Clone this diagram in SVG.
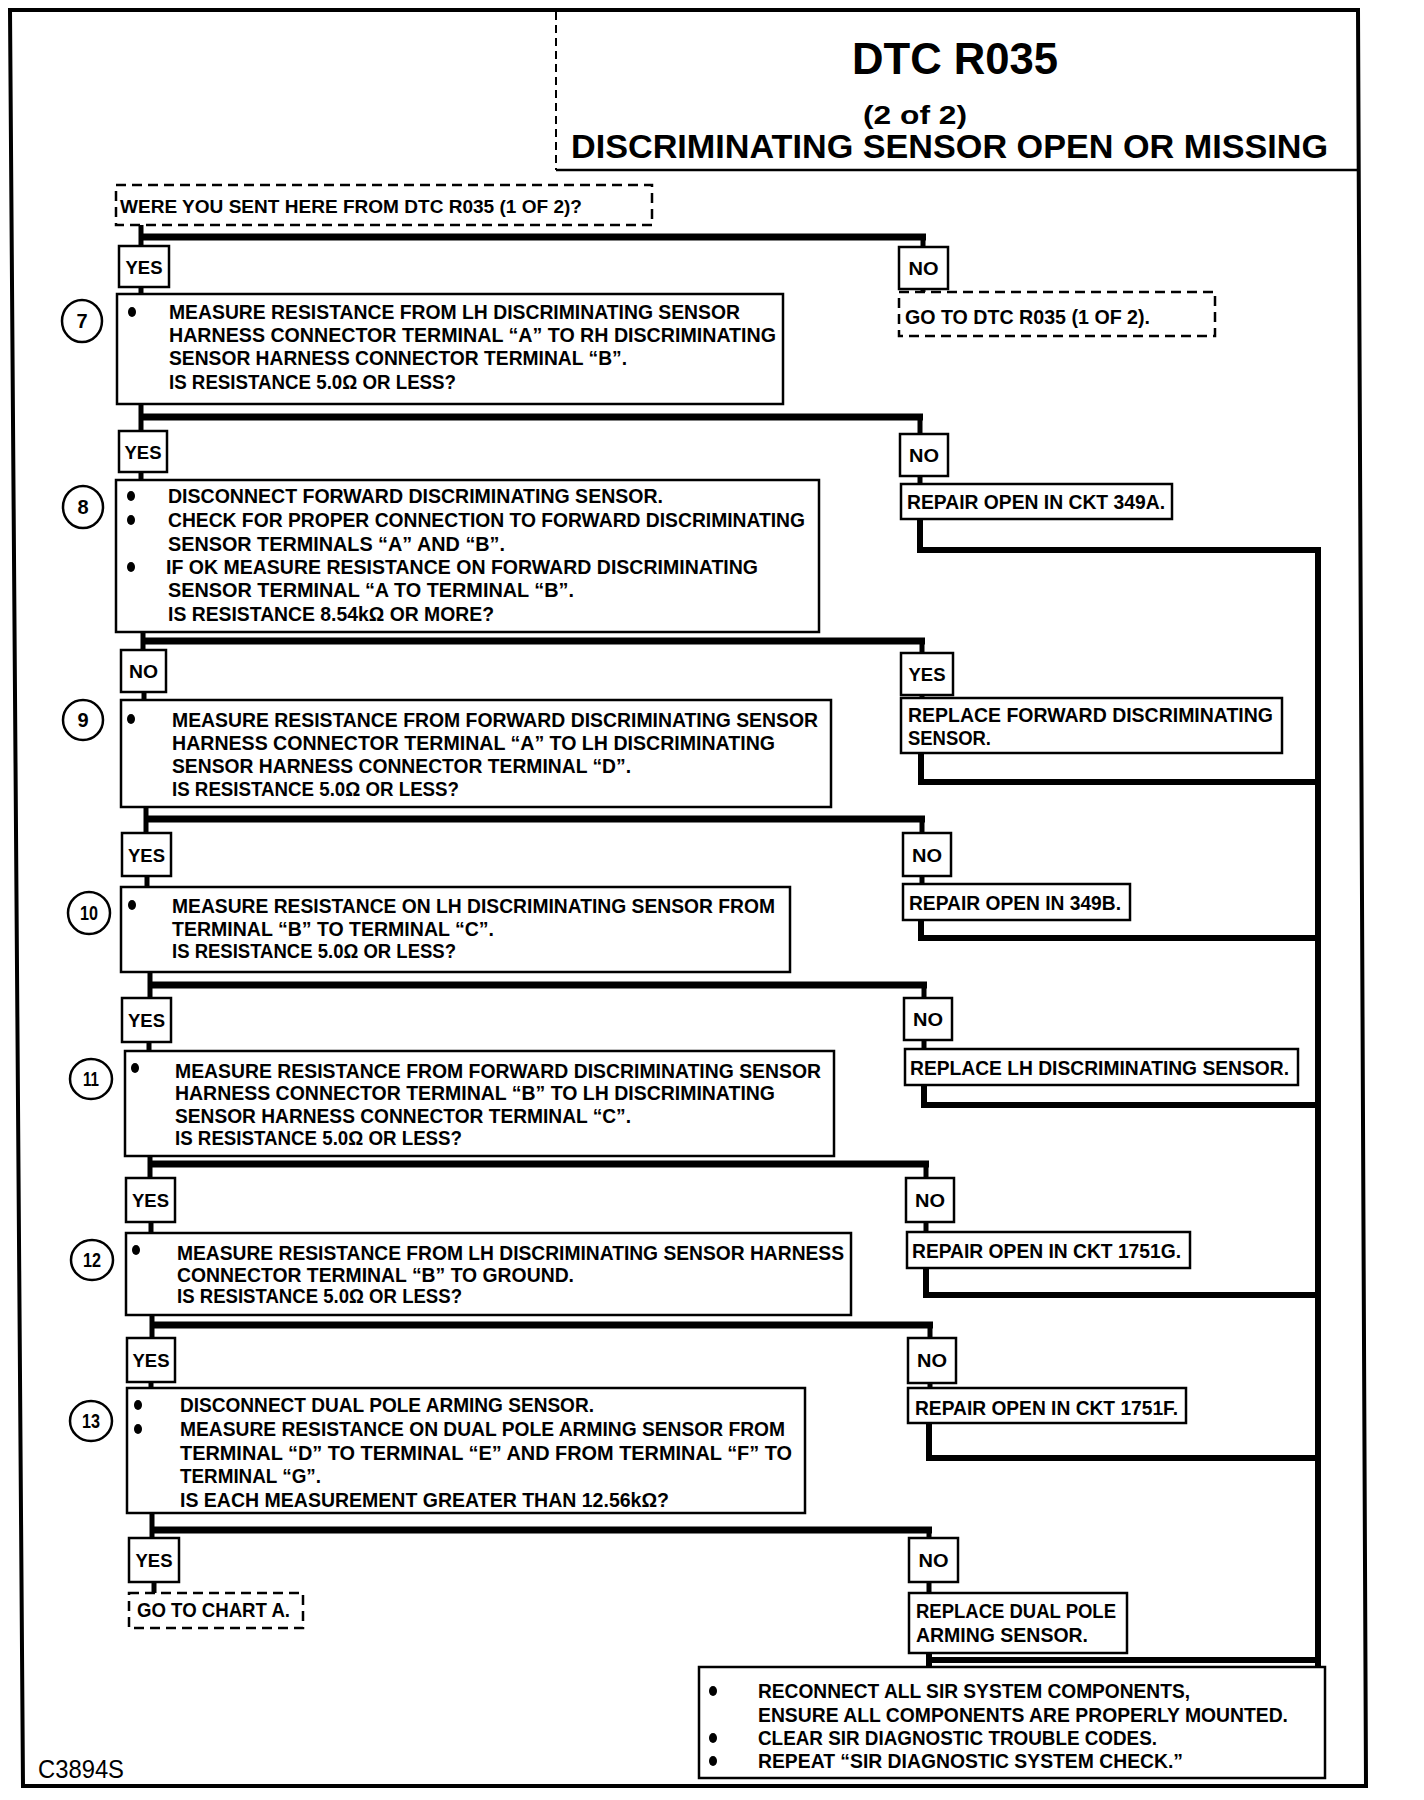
<svg xmlns="http://www.w3.org/2000/svg" width="1424" height="1800" viewBox="0 0 1424 1800">
<style>
.box{fill:#fff;stroke:#000;stroke-width:2.5}
.dash{fill:#fff;stroke:#000;stroke-width:2.5;stroke-dasharray:10 6}
.t{font-family:"Liberation Sans",Arial,sans-serif;font-weight:bold;font-size:20px;fill:#000}
.l{font-family:"Liberation Sans",Arial,sans-serif;font-weight:bold;font-size:19px;fill:#000;text-anchor:middle}
.n{font-family:"Liberation Sans",Arial,sans-serif;font-weight:bold;font-size:20px;fill:#000;text-anchor:middle}
.circ{fill:#fff;stroke:#000;stroke-width:2.5}
.bul{fill:#000}
.h{stroke:#000;stroke-width:7;fill:none}
.v{stroke:#000;stroke-width:5;fill:none}
.r{stroke:#000;stroke-width:6;fill:none;stroke-linejoin:miter}
</style>
<rect width="1424" height="1800" fill="#fff"/>
<g id="frame">
<path d="M10,10 L1358,10 L1366,1786 L23,1786 Z" fill="none" stroke="#000" stroke-width="4"/>
<line x1="556" y1="12" x2="556" y2="170" stroke="#000" stroke-width="2" stroke-dasharray="8 5"/>
<line x1="556" y1="170" x2="1360" y2="170" stroke="#000" stroke-width="2.5"/>
</g>
<g id="title">
<text class="t" x="852" y="74" style="font-size:44px" textLength="206" lengthAdjust="spacingAndGlyphs">DTC R035</text>
<text class="t" x="863" y="124" style="font-size:26px" textLength="104" lengthAdjust="spacingAndGlyphs">(2 of 2)</text>
<text class="t" x="571" y="158" style="font-size:33px" textLength="757" lengthAdjust="spacingAndGlyphs">DISCRIMINATING SENSOR OPEN OR MISSING</text>
</g>

<g id="connectors">
<path class="v" d="M141,225 V246 M141,287 V294 M141,404 V431 M141,472 V480 M143,632 V650 M144,692 V700 M146,807 V833 M147,876 V887 M150,972 V998 M149,1042 V1051 M150,1156 V1178 M151,1222 V1233 M152,1315 V1338 M151,1382 V1388 M152,1513 V1538 M154,1582 V1593"/>
<path class="h" d="M141,237 H926 M141,417 H923 M143,641 H925 M146,819 H925 M150,985 H927 M150,1164 H929 M152,1325 H933 M152,1530 H932"/>
<path class="v" d="M923,237 V247 M923,289 V292 M920,417 V434 M920,476 V484 M922,641 V653 M922,695 V698 M922,819 V833 M922,876 V884 M924,985 V998 M924,1040 V1049 M926,1164 V1178 M926,1222 V1232 M930,1325 V1338 M930,1383 V1388 M929,1530 V1538 M929,1582 V1593"/>
<path class="r" d="M920,519 V550 H1321 M921,753 V782 H1321 M921,920 V938 H1321 M924,1085 V1105 H1321 M926,1268 V1295 H1321 M929,1423 V1458 H1321 M929,1653 V1667 M929,1660 H1321"/>
<path class="r" d="M1318,547 V1667"/>
</g>

<g id="start">
<rect class="dash" x="116" y="185" width="536" height="40"/>
<text class="t" x="120" y="213" style="font-size:19px" textLength="462" lengthAdjust="spacingAndGlyphs">WERE YOU SENT HERE FROM DTC R035 (1 OF 2)?</text>
</g>

<g id="yes1"><rect class="box" x="119" y="246" width="50" height="41"/><text class="l" x="144" y="274" textLength="37" lengthAdjust="spacingAndGlyphs">YES</text></g>
<g id="yes2"><rect class="box" x="119" y="431" width="48" height="41"/><text class="l" x="143" y="459" textLength="37" lengthAdjust="spacingAndGlyphs">YES</text></g>
<g id="no3"><rect class="box" x="121" y="650" width="45" height="42"/><text class="l" x="143.5" y="678" textLength="29" lengthAdjust="spacingAndGlyphs">NO</text></g>
<g id="yes4"><rect class="box" x="122" y="833" width="49" height="43"/><text class="l" x="146.5" y="862" textLength="37" lengthAdjust="spacingAndGlyphs">YES</text></g>
<g id="yes5"><rect class="box" x="122" y="998" width="49" height="44"/><text class="l" x="146.5" y="1027" textLength="37" lengthAdjust="spacingAndGlyphs">YES</text></g>
<g id="yes6"><rect class="box" x="126" y="1178" width="49" height="44"/><text class="l" x="150.5" y="1207" textLength="37" lengthAdjust="spacingAndGlyphs">YES</text></g>
<g id="yes7"><rect class="box" x="127" y="1338" width="48" height="44"/><text class="l" x="151" y="1367" textLength="37" lengthAdjust="spacingAndGlyphs">YES</text></g>
<g id="yes8"><rect class="box" x="129" y="1538" width="50" height="44"/><text class="l" x="154" y="1567" textLength="37" lengthAdjust="spacingAndGlyphs">YES</text></g>

<g id="no1"><rect class="box" x="899" y="247" width="49" height="42"/><text class="l" x="923.5" y="275" textLength="30" lengthAdjust="spacingAndGlyphs">NO</text></g>
<g id="no2"><rect class="box" x="900" y="434" width="48" height="42"/><text class="l" x="924" y="462" textLength="30" lengthAdjust="spacingAndGlyphs">NO</text></g>
<g id="yesr"><rect class="box" x="901" y="653" width="52" height="42"/><text class="l" x="927" y="681" textLength="37" lengthAdjust="spacingAndGlyphs">YES</text></g>
<g id="no4"><rect class="box" x="903" y="833" width="48" height="43"/><text class="l" x="927" y="862" textLength="30" lengthAdjust="spacingAndGlyphs">NO</text></g>
<g id="no5"><rect class="box" x="904" y="998" width="48" height="42"/><text class="l" x="928" y="1026" textLength="30" lengthAdjust="spacingAndGlyphs">NO</text></g>
<g id="no6"><rect class="box" x="906" y="1178" width="48" height="44"/><text class="l" x="930" y="1207" textLength="30" lengthAdjust="spacingAndGlyphs">NO</text></g>
<g id="no7"><rect class="box" x="908" y="1338" width="48" height="45"/><text class="l" x="932" y="1367" textLength="30" lengthAdjust="spacingAndGlyphs">NO</text></g>
<g id="no8"><rect class="box" x="909" y="1538" width="49" height="44"/><text class="l" x="933.5" y="1567" textLength="30" lengthAdjust="spacingAndGlyphs">NO</text></g>

<g id="c7"><ellipse class="circ" cx="82" cy="321" rx="20" ry="21"/><text class="n" x="82" y="328">7</text></g>
<g id="c8"><ellipse class="circ" cx="83" cy="507" rx="20" ry="21"/><text class="n" x="83" y="514">8</text></g>
<g id="c9"><ellipse class="circ" cx="83" cy="720" rx="20" ry="20"/><text class="n" x="83" y="727">9</text></g>
<g id="c10"><ellipse class="circ" cx="89" cy="913" rx="21" ry="21"/><text class="n" x="89" y="920" textLength="18" lengthAdjust="spacingAndGlyphs">10</text></g>
<g id="c11"><ellipse class="circ" cx="91" cy="1079" rx="21" ry="20"/><text class="n" x="91" y="1086" textLength="16" lengthAdjust="spacingAndGlyphs">11</text></g>
<g id="c12"><ellipse class="circ" cx="92" cy="1260" rx="21" ry="20"/><text class="n" x="92" y="1267" textLength="18" lengthAdjust="spacingAndGlyphs">12</text></g>
<g id="c13"><ellipse class="circ" cx="91" cy="1421" rx="21" ry="20"/><text class="n" x="91" y="1428" textLength="18" lengthAdjust="spacingAndGlyphs">13</text></g>

<g id="step7">
<rect class="box" x="117" y="294" width="666" height="110"/>
<ellipse class="bul" cx="132" cy="312" rx="4" ry="5"/>
<text class="t" x="169" y="319" textLength="571" lengthAdjust="spacingAndGlyphs">MEASURE RESISTANCE FROM LH DISCRIMINATING SENSOR</text>
<text class="t" x="169" y="342" textLength="607" lengthAdjust="spacingAndGlyphs">HARNESS CONNECTOR TERMINAL “A” TO RH DISCRIMINATING</text>
<text class="t" x="169" y="365" textLength="458" lengthAdjust="spacingAndGlyphs">SENSOR HARNESS CONNECTOR TERMINAL “B”.</text>
<text class="t" x="169" y="389" textLength="287" lengthAdjust="spacingAndGlyphs">IS RESISTANCE 5.0Ω OR LESS?</text>
</g>

<g id="step8">
<rect class="box" x="116" y="480" width="703" height="152"/>
<ellipse class="bul" cx="131" cy="496" rx="4" ry="5"/>
<ellipse class="bul" cx="131" cy="520" rx="4" ry="5"/>
<ellipse class="bul" cx="131" cy="567" rx="4" ry="5"/>
<text class="t" x="168" y="503" textLength="495" lengthAdjust="spacingAndGlyphs">DISCONNECT FORWARD DISCRIMINATING SENSOR.</text>
<text class="t" x="168" y="527" textLength="637" lengthAdjust="spacingAndGlyphs">CHECK FOR PROPER CONNECTION TO FORWARD DISCRIMINATING</text>
<text class="t" x="168" y="551" textLength="337" lengthAdjust="spacingAndGlyphs">SENSOR TERMINALS “A” AND “B”.</text>
<text class="t" x="166" y="574" textLength="592" lengthAdjust="spacingAndGlyphs">IF OK MEASURE RESISTANCE ON FORWARD DISCRIMINATING</text>
<text class="t" x="168" y="597" textLength="406" lengthAdjust="spacingAndGlyphs">SENSOR TERMINAL “A TO TERMINAL “B”.</text>
<text class="t" x="168" y="621" textLength="326" lengthAdjust="spacingAndGlyphs">IS RESISTANCE 8.54kΩ OR MORE?</text>
</g>

<g id="step9">
<rect class="box" x="121" y="700" width="710" height="107"/>
<ellipse class="bul" cx="131" cy="719" rx="4" ry="5"/>
<text class="t" x="172" y="727" textLength="646" lengthAdjust="spacingAndGlyphs">MEASURE RESISTANCE FROM FORWARD DISCRIMINATING SENSOR</text>
<text class="t" x="172" y="750" textLength="603" lengthAdjust="spacingAndGlyphs">HARNESS CONNECTOR TERMINAL “A” TO LH DISCRIMINATING</text>
<text class="t" x="172" y="773" textLength="459" lengthAdjust="spacingAndGlyphs">SENSOR HARNESS CONNECTOR TERMINAL “D”.</text>
<text class="t" x="172" y="796" textLength="287" lengthAdjust="spacingAndGlyphs">IS RESISTANCE 5.0Ω OR LESS?</text>
</g>

<g id="step10">
<rect class="box" x="121" y="887" width="669" height="85"/>
<ellipse class="bul" cx="132" cy="905" rx="4" ry="5"/>
<text class="t" x="172" y="913" textLength="603" lengthAdjust="spacingAndGlyphs">MEASURE RESISTANCE ON LH DISCRIMINATING SENSOR FROM</text>
<text class="t" x="172" y="936" textLength="322" lengthAdjust="spacingAndGlyphs">TERMINAL “B” TO TERMINAL “C”.</text>
<text class="t" x="172" y="958" textLength="284" lengthAdjust="spacingAndGlyphs">IS RESISTANCE 5.0Ω OR LESS?</text>
</g>

<g id="step11">
<rect class="box" x="125" y="1051" width="709" height="105"/>
<ellipse class="bul" cx="135" cy="1068" rx="4" ry="5"/>
<text class="t" x="175" y="1078" textLength="646" lengthAdjust="spacingAndGlyphs">MEASURE RESISTANCE FROM FORWARD DISCRIMINATING SENSOR</text>
<text class="t" x="175" y="1100" textLength="600" lengthAdjust="spacingAndGlyphs">HARNESS CONNECTOR TERMINAL “B” TO LH DISCRIMINATING</text>
<text class="t" x="175" y="1123" textLength="456" lengthAdjust="spacingAndGlyphs">SENSOR HARNESS CONNECTOR TERMINAL “C”.</text>
<text class="t" x="175" y="1145" textLength="287" lengthAdjust="spacingAndGlyphs">IS RESISTANCE 5.0Ω OR LESS?</text>
</g>

<g id="step12">
<rect class="box" x="126" y="1233" width="725" height="82"/>
<ellipse class="bul" cx="136" cy="1250" rx="4" ry="5"/>
<text class="t" x="177" y="1260" textLength="667" lengthAdjust="spacingAndGlyphs">MEASURE RESISTANCE FROM LH DISCRIMINATING SENSOR HARNESS</text>
<text class="t" x="177" y="1282" textLength="397" lengthAdjust="spacingAndGlyphs">CONNECTOR TERMINAL “B” TO GROUND.</text>
<text class="t" x="177" y="1303" textLength="285" lengthAdjust="spacingAndGlyphs">IS RESISTANCE 5.0Ω OR LESS?</text>
</g>

<g id="step13">
<rect class="box" x="127" y="1388" width="678" height="125"/>
<ellipse class="bul" cx="138" cy="1405" rx="4" ry="5"/>
<ellipse class="bul" cx="138" cy="1429" rx="4" ry="5"/>
<text class="t" x="180" y="1412" textLength="414" lengthAdjust="spacingAndGlyphs">DISCONNECT DUAL POLE ARMING SENSOR.</text>
<text class="t" x="180" y="1436" textLength="605" lengthAdjust="spacingAndGlyphs">MEASURE RESISTANCE ON DUAL POLE ARMING SENSOR FROM</text>
<text class="t" x="180" y="1460" textLength="612" lengthAdjust="spacingAndGlyphs">TERMINAL “D” TO TERMINAL “E” AND FROM TERMINAL “F” TO</text>
<text class="t" x="180" y="1483" textLength="141" lengthAdjust="spacingAndGlyphs">TERMINAL “G”.</text>
<text class="t" x="180" y="1507" textLength="489" lengthAdjust="spacingAndGlyphs">IS EACH MEASUREMENT GREATER THAN 12.56kΩ?</text>
</g>

<g id="chartA">
<rect class="dash" x="129" y="1593" width="174" height="35"/>
<text class="t" x="137" y="1617" textLength="153" lengthAdjust="spacingAndGlyphs">GO TO CHART A.</text>
</g>

<g id="goto1">
<rect class="dash" x="899" y="292" width="316" height="44"/>
<text class="t" x="905" y="324" textLength="245" lengthAdjust="spacingAndGlyphs">GO TO DTC R035 (1 OF 2).</text>
</g>
<g id="rep349a">
<rect class="box" x="901" y="484" width="271" height="35"/>
<text class="t" x="907" y="509" textLength="258" lengthAdjust="spacingAndGlyphs">REPAIR OPEN IN CKT 349A.</text>
</g>
<g id="repfwd">
<rect class="box" x="901" y="698" width="381" height="55"/>
<text class="t" x="908" y="722" textLength="365" lengthAdjust="spacingAndGlyphs">REPLACE FORWARD DISCRIMINATING</text>
<text class="t" x="908" y="745" textLength="83" lengthAdjust="spacingAndGlyphs">SENSOR.</text>
</g>
<g id="rep349b">
<rect class="box" x="903" y="884" width="227" height="36"/>
<text class="t" x="909" y="910" textLength="212" lengthAdjust="spacingAndGlyphs">REPAIR OPEN IN 349B.</text>
</g>
<g id="replh">
<rect class="box" x="905" y="1049" width="393" height="36"/>
<text class="t" x="910" y="1075" textLength="379" lengthAdjust="spacingAndGlyphs">REPLACE LH DISCRIMINATING SENSOR.</text>
</g>
<g id="rep1751g">
<rect class="box" x="907" y="1232" width="283" height="36"/>
<text class="t" x="912" y="1258" textLength="269" lengthAdjust="spacingAndGlyphs">REPAIR OPEN IN CKT 1751G.</text>
</g>
<g id="rep1751f">
<rect class="box" x="908" y="1388" width="278" height="35"/>
<text class="t" x="915" y="1415" textLength="263" lengthAdjust="spacingAndGlyphs">REPAIR OPEN IN CKT 1751F.</text>
</g>
<g id="repdual">
<rect class="box" x="909" y="1593" width="218" height="60"/>
<text class="t" x="916" y="1618" textLength="200" lengthAdjust="spacingAndGlyphs">REPLACE DUAL POLE</text>
<text class="t" x="916" y="1642" textLength="172" lengthAdjust="spacingAndGlyphs">ARMING SENSOR.</text>
</g>

<g id="final">
<rect class="box" x="699" y="1667" width="626" height="111"/>
<ellipse class="bul" cx="713" cy="1691" rx="4" ry="5"/>
<ellipse class="bul" cx="713" cy="1738" rx="4" ry="5"/>
<ellipse class="bul" cx="713" cy="1761" rx="4" ry="5"/>
<text class="t" x="758" y="1698" textLength="432" lengthAdjust="spacingAndGlyphs">RECONNECT ALL SIR SYSTEM COMPONENTS,</text>
<text class="t" x="758" y="1722" textLength="530" lengthAdjust="spacingAndGlyphs">ENSURE ALL COMPONENTS ARE PROPERLY MOUNTED.</text>
<text class="t" x="758" y="1745" textLength="399" lengthAdjust="spacingAndGlyphs">CLEAR SIR DIAGNOSTIC TROUBLE CODES.</text>
<text class="t" x="758" y="1768" textLength="425" lengthAdjust="spacingAndGlyphs">REPEAT “SIR DIAGNOSTIC SYSTEM CHECK.”</text>
</g>

<text x="38" y="1778" font-family="Liberation Sans, Arial, sans-serif" font-size="25" textLength="86" lengthAdjust="spacingAndGlyphs">C3894S</text>
</svg>
